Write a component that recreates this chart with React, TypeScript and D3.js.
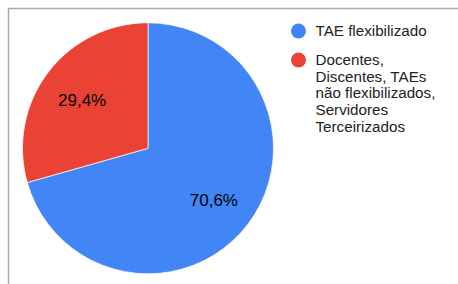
import * as d3 from 'd3'
import React from 'react'

// chart data
const labels = ['TAE flexibilizado', 'Docentes, Discentes, TAEs não flexibilizados, Servidores Terceirizados']
const values = [70.6, 29.4]
const colors = ['#4285F4', '#EA4335']
// legend text, already broken into lines
const legendLines = [
    ['TAE flexibilizado'],
    ['Docentes,', 'Discentes, TAEs', 'não flexibilizados,', 'Servidores', 'Terceirizados'],
]

const W = 458
const H = 284

const App = () => {
    const cx = 148
    const cy = 148.3
    const radius = 125.5
    const labelR = 82.6

    // pie layout, first slice starts at 12 o'clock going clockwise
    const pie = d3.pie<number>().sort(null).value(d => d)
    const slices = pie(values)
    const arc = d3.arc<d3.PieArcDatum<number>>().innerRadius(0).outerRadius(radius)
    const labelArc = d3.arc<d3.PieArcDatum<number>>().innerRadius(labelR).outerRadius(labelR)

    const fmt = (v: number) => v.toFixed(1).replace('.', ',') + '%'

    const legendX = 298.5
    const lineH = 16.7
    const firstBase = [36, 65]

    return (
        <svg width={W} height={H} style={{ position: 'fixed', left: 0, top: 0 }}
            fontFamily="'Liberation Sans', Arial, sans-serif">
            <rect x={0} y={0} width={W} height={H} fill="#fff" />
            {/* frame, only top and left edges show */}
            <line x1={8} y1={8.5} x2={W} y2={8.5} stroke="#aaa" strokeWidth={1.5} />
            <line x1={8.5} y1={8} x2={8.5} y2={H} stroke="#aaa" strokeWidth={1.5} />

            <g transform={`translate(${cx},${cy})`}>
                {slices.map((s, i) => (
                    <path key={i} d={arc(s) || ''} fill={colors[i]} stroke="#fff" strokeWidth={0.7} />
                ))}
                {slices.map((s, i) => {
                    const [x, y] = labelArc.centroid(s)
                    return (
                        <text key={'l' + i} x={x} y={y + 7.5} textAnchor="middle" fontSize={17} fill="#000">
                            {fmt(values[i])}
                        </text>
                    )
                })}
            </g>

            {/* legend */}
            {labels.map((lab, i) => (
                <g key={lab}>
                    <circle cx={legendX} cy={firstBase[i] - 5} r={7.5} fill={colors[i]} />
                    <text x={315.5} y={firstBase[i]} fontSize={15.2} fill="#222">
                        {legendLines[i].map((ln, j) => (
                            <tspan key={j} x={315.5} y={firstBase[i] + j * lineH}>{ln}</tspan>
                        ))}
                    </text>
                </g>
            ))}
        </svg>
    )
}

export default App
